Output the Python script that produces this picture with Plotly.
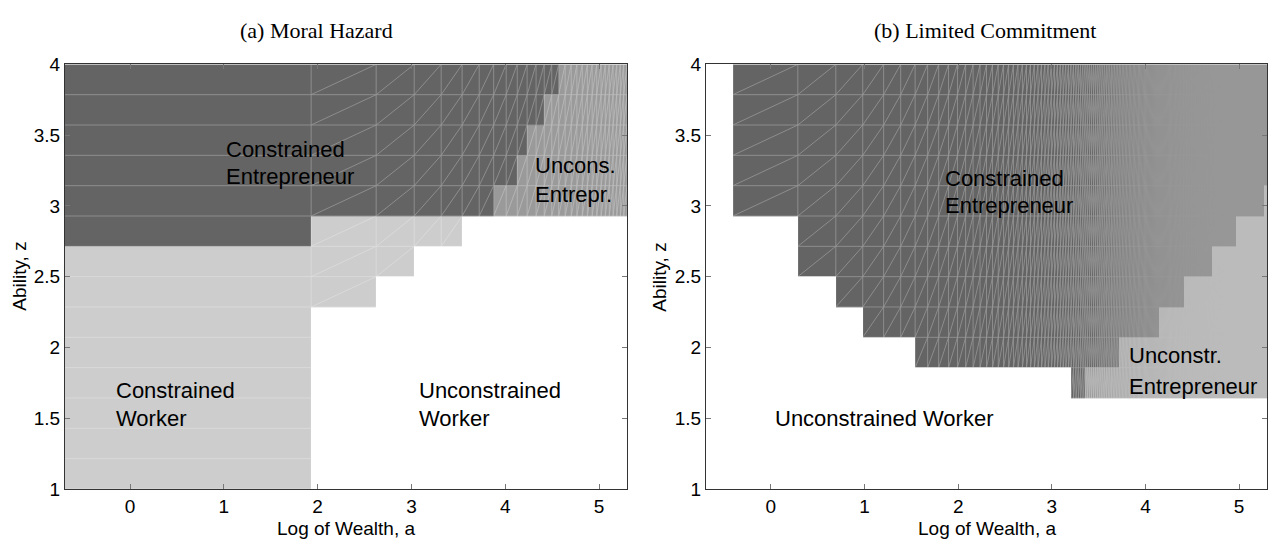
import numpy as np
import plotly.graph_objects as go

# Axis limits (log of wealth) and ability grid
A_MIN, A_MAX = np.log(0.5), np.log(200.0)
Z_EDGES = np.linspace(1.0, 4.0, 15)

# Wealth grids (levels) on which occupational choice is computed
WEALTH_MH = np.linspace(0.0, 200.0, 30)
WEALTH_LC = np.linspace(0.0, 200.0, 301)

# Occupation codes
OCCUPATIONS = ["Unconstrained Worker", "Constrained Worker",
               "Constrained Entrepreneur", "Unconstrained Entrepreneur"]

# Moral hazard: for each ability row (bottom -> top), the log-wealth cut-offs
# and the occupation on each side of them
mh_breaks = [[1.93], [1.93], [1.93], [1.93], [1.93], [1.93],
             [2.62], [3.03], [1.93, 3.54],
             [3.87], [4.13], [4.23], [4.41], [4.57]]
mh_codes = [[1, 0], [1, 0], [1, 0], [1, 0], [1, 0], [1, 0],
            [1, 0], [1, 0], [2, 1, 0],
            [2, 3], [2, 3], [2, 3], [2, 3], [2, 3]]

# Limited commitment
lc_breaks = [[], [], [],
             [3.21, 3.36], [1.54, 3.72], [0.98, 4.15], [0.69, 4.41],
             [0.29, 4.71], [0.29, 4.97], [-0.41, 5.27],
             [-0.41], [-0.41], [-0.41], [-0.41]]
lc_codes = [[0], [0], [0],
            [0, 2, 3], [0, 2, 3], [0, 2, 3], [0, 2, 3],
            [0, 2, 3], [0, 2, 3], [0, 2, 3],
            [0, 2], [0, 2], [0, 2], [0, 2]]

x_ticks = [0, 1, 2, 3, 4, 5]
y_ticks = [1, 1.5, 2, 2.5, 3, 3.5, 4]
y_ticktext = ["1", "1.5", "2", "2.5", "3", "3.5", "4"]

# Region labels: (text, log wealth, ability)
mh_labels = [("Constrained", 1.00, 3.395), ("Entrepreneur", 1.00, 3.21),
             ("Uncons.", 4.30, 3.285), ("Entrepr.", 4.30, 3.081),
             ("Constrained", -0.17, 1.696), ("Worker", -0.17, 1.497),
             ("Unconstrained", 3.06, 1.696), ("Worker", 3.06, 1.497)]
lc_labels = [("Constrained", 1.835, 3.193), ("Entrepreneur", 1.835, 3.0),
             ("Unconstr.", 3.806, 1.942), ("Entrepreneur", 3.806, 1.722),
             ("Unconstrained Worker", 0.02, 1.5)]

COLORS = ["#ffffff", "#cdcdcd", "#646464", "#9a9a9a"]
SANS = "Liberation Sans, Arial, sans-serif"
SERIF = "Liberation Serif, Times New Roman, serif"

W, H = 1274, 550
X_DOM = [(65 / W, 627 / W), (706 / W, 1267 / W)]
Y_DOM = (1 - 498 / H, 1 - 56.5 / H)


def occupation_matrix(wealth, breaks, codes):
    mids = np.log((wealth[:-1] + wealth[1:]) / 2.0)
    mat = np.zeros((len(breaks), len(mids)))
    for r, (bk, cd) in enumerate(zip(breaks, codes)):
        idx = np.searchsorted(np.array(bk, dtype=float), mids)
        mat[r] = np.array(cd)[idx]
    return mat


def cell_edges(wealth):
    e = np.log(np.maximum(wealth, 1e-12))
    e[0] = A_MIN
    return e


def mesh_lines(wealth):
    xs, ys = [], []
    la = np.log(wealth[1:])
    # rows
    for z in Z_EDGES:
        xs += [A_MIN, A_MAX, None]
        ys += [z, z, None]
    # columns
    for a in la:
        xs += [a, a, None]
        ys += [Z_EDGES[0], Z_EDGES[-1], None]
    # cell diagonals
    for j in range(len(la) - 1):
        for r in range(len(Z_EDGES) - 1):
            xs += [la[j], la[j + 1], None]
            ys += [Z_EDGES[r], Z_EDGES[r + 1], None]
    return xs, ys


cscale = []
for i, c in enumerate(COLORS):
    cscale += [[i / 4, c], [(i + 1) / 4, c]]

fig = go.Figure()
panels = [(WEALTH_MH, mh_breaks, mh_codes, mh_labels),
          (WEALTH_LC, lc_breaks, lc_codes, lc_labels)]

for p, (wealth, breaks, codes, labels) in enumerate(panels):
    xa = "x" if p == 0 else "x2"
    ya = "y" if p == 0 else "y2"
    mat = occupation_matrix(wealth, breaks, codes)
    fig.add_trace(go.Heatmap(
        z=mat, x=cell_edges(wealth), y=Z_EDGES,
        colorscale=cscale, zmin=-0.5, zmax=3.5, showscale=False,
        xaxis=xa, yaxis=ya, hoverinfo="skip"))
    # patch edges of the surface mesh, composited as one translucent layer
    mx, my = mesh_lines(wealth)
    fig.add_trace(go.Scatter(
        x=mx, y=my, mode="lines", xaxis=xa, yaxis=ya, opacity=0.33,
        line=dict(color="white", width=0.8),
        hoverinfo="skip", showlegend=False))
    for text, a, z in labels:
        fig.add_annotation(x=a, y=z, xref=xa, yref=ya, text=text,
                           showarrow=False, xanchor="left", yanchor="middle",
                           font=dict(family=SANS, size=22, color="black"))

axis_common = dict(showline=True, mirror="ticks", linecolor="#333333", linewidth=1,
                   ticks="inside", ticklen=5, tickcolor="#777777",
                   showgrid=False, zeroline=False,
                   tickfont=dict(family=SANS, size=19, color="black"))

for p in range(2):
    sx = "" if p == 0 else "2"
    fig.update_layout(**{
        "xaxis" + sx: dict(axis_common, domain=list(X_DOM[p]), range=[A_MIN, A_MAX],
                           tickvals=x_ticks, anchor="y" + sx),
        "yaxis" + sx: dict(axis_common, domain=list(Y_DOM), range=[1, 4],
                           tickvals=y_ticks, ticktext=y_ticktext, anchor="x" + sx),
    })

titles = ["(a) Moral Hazard", "(b) Limited Commitment"]
title_x = [316, 985]
for p in range(2):
    fig.add_annotation(x=title_x[p] / W, y=1 - 21 / H, xref="paper", yref="paper",
                       text=titles[p], showarrow=False, xanchor="center", yanchor="middle",
                       font=dict(family=SERIF, size=22, color="black"))
    cx = (X_DOM[p][0] + X_DOM[p][1]) / 2
    fig.add_annotation(x=cx, y=1 - 539 / H, xref="paper", yref="paper",
                       text="Log of Wealth, a", showarrow=False,
                       xanchor="center", yanchor="middle",
                       font=dict(family=SANS, size=19, color="black"))
    fig.add_annotation(x=(20 if p == 0 else 660) / W, y=(Y_DOM[0] + Y_DOM[1]) / 2,
                       xref="paper", yref="paper", text="Ability, z", textangle=-90,
                       showarrow=False, xanchor="center", yanchor="middle",
                       font=dict(family=SANS, size=19, color="black"))

fig.update_layout(width=W, height=H, margin=dict(l=0, r=0, t=0, b=0),
                  paper_bgcolor="white", plot_bgcolor="white", showlegend=False)

fig.write_html("out.html")
